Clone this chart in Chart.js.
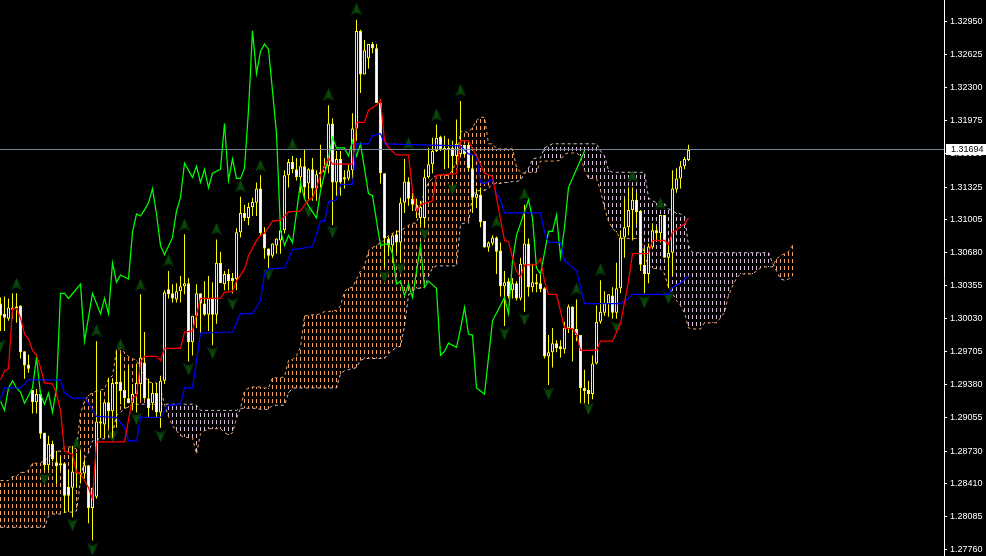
<!DOCTYPE html>
<html lang="en">
  <head>
    <meta charset="UTF-8" />
    <title>Ichimoku chart</title>
    <style>
      body {
        margin: 0;
        background-color: #000;
      }
      canvas {
        display: block;
      }
    </style>
  </head>
  <body>
    <canvas id="myChart" width="986" height="556"></canvas>
    <script src="https://cdn.jsdelivr.net/npm/chart.js"></script>
    <script>
      const lastPrice = 1.31694;
      const priceTicks = [
        1.3295, 1.32625, 1.323, 1.31975, 1.3165, 1.31325, 1.31005, 1.3068, 1.30355,
        1.3003, 1.29705, 1.2938, 1.29055, 1.2873, 1.2841, 1.28085, 1.2776,
      ];

      const candleOpen = [
        1.3018, 1.3008, 1.3003, 1.3014, 1.3015, 1.3016, 1.2971, 1.2958, 1.2933, 1.2921,
        1.2929, 1.2891, 1.2859, 1.288, 1.2862, 1.2861, 1.2861, 1.2838, 1.2837, 1.2852,
        1.2852, 1.2851, 1.2859, 1.2817, 1.2828, 1.2902, 1.2899, 1.2921, 1.2912, 1.2941,
        1.2941, 1.2933, 1.2925, 1.292, 1.2929, 1.2939, 1.296, 1.2925, 1.292, 1.293,
        1.2911, 1.2942, 1.3032, 1.3028, 1.3022, 1.303, 1.3035, 1.3038, 1.298, 1.3006,
        1.3028, 1.3018, 1.3007, 1.3023, 1.3007, 1.3058, 1.3037, 1.3047, 1.3043, 1.3042,
        1.3088, 1.3107, 1.3102, 1.3113, 1.3117, 1.3131, 1.3087, 1.3072, 1.3065, 1.3075,
        1.308, 1.309, 1.3144, 1.3157, 1.315, 1.3142, 1.3153, 1.3136, 1.315, 1.3131,
        1.3145, 1.3147, 1.3153, 1.3195, 1.3137, 1.316, 1.3142, 1.3141, 1.3149, 1.319,
        1.3286, 1.3243, 1.3259, 1.3273, 1.3269, 1.3215, 1.3146, 1.3082, 1.3075, 1.3086,
        1.3078, 1.3117, 1.3138, 1.3121, 1.3115, 1.3102, 1.3102, 1.3142, 1.3155, 1.3168,
        1.3182, 1.3171, 1.317, 1.3171, 1.3163, 1.3165, 1.3174, 1.3174, 1.3151, 1.3122,
        1.3125, 1.3099, 1.3073, 1.3077, 1.3083, 1.307, 1.3035, 1.304, 1.3031, 1.3038,
        1.3023, 1.3056, 1.3077, 1.3034, 1.3039, 1.3038, 1.3033, 1.2966, 1.297, 1.2979,
        1.2976, 1.2973, 1.2994, 1.3015, 1.2993, 1.2987, 1.2935, 1.2933, 1.2929, 1.2959,
        1.3, 1.3009, 1.3018, 1.3026, 1.3009, 1.3033, 1.3083, 1.3093, 1.311, 1.312,
        1.3109, 1.3056, 1.3047, 1.3073, 1.309, 1.3087, 1.3105, 1.3063, 1.3068, 1.313,
        1.3141, 1.3153, 1.3159,
      ];
      const candleHigh = [
        1.3024, 1.3025, 1.3023, 1.3028, 1.3028, 1.3016, 1.2971, 1.2968, 1.2933, 1.2934,
        1.2932, 1.2891, 1.2888, 1.2883, 1.2873, 1.2868, 1.2861, 1.2854, 1.2878, 1.2871,
        1.2873, 1.2865, 1.2859, 1.2837, 1.2981, 1.2932, 1.2922, 1.2945, 1.2944, 1.2972,
        1.2969, 1.2952, 1.2957, 1.2939, 1.2959, 1.3027, 1.299, 1.2944, 1.294, 1.294,
        1.2947, 1.3031, 1.305, 1.3037, 1.3038, 1.3045, 1.3086, 1.3043, 1.3006, 1.3037,
        1.3028, 1.304, 1.3045, 1.3039, 1.3081, 1.3069, 1.305, 1.3052, 1.3048, 1.3092,
        1.3123, 1.3115, 1.3117, 1.3122, 1.3137, 1.3144, 1.3093, 1.3072, 1.3077, 1.3082,
        1.3099, 1.3149, 1.316, 1.3163, 1.3161, 1.3161, 1.3169, 1.3151, 1.3161, 1.3149,
        1.3174, 1.3161, 1.3213, 1.32, 1.3168, 1.3168, 1.3149, 1.3155, 1.3205, 1.3297,
        1.3287, 1.3277, 1.3273, 1.3275, 1.3273, 1.3219, 1.3146, 1.3084, 1.3085, 1.309,
        1.3122, 1.316, 1.3142, 1.3127, 1.3121, 1.3119, 1.315, 1.3171, 1.3181, 1.3194,
        1.3183, 1.3183, 1.318, 1.3178, 1.3199, 1.3217, 1.3174, 1.3176, 1.3165, 1.3131,
        1.3132, 1.3099, 1.3079, 1.3085, 1.3084, 1.3078, 1.305, 1.3043, 1.3043, 1.304,
        1.3063, 1.3115, 1.3082, 1.3057, 1.3047, 1.3047, 1.3034, 1.2987, 1.2994, 1.2982,
        1.2982, 1.3, 1.3017, 1.3015, 1.3022, 1.2987, 1.2953, 1.2942, 1.2967, 1.3016,
        1.3041, 1.303, 1.3027, 1.3034, 1.3058, 1.309, 1.3121, 1.3132, 1.3132, 1.3127,
        1.311, 1.3072, 1.3077, 1.3097, 1.3094, 1.3105, 1.3105, 1.3078, 1.3149, 1.3151,
        1.3158, 1.3162, 1.3174,
      ];
      const candleLow = [
        1.2991, 1.2991, 1.3001, 1.3003, 1.2999, 1.2964, 1.2944, 1.295, 1.291, 1.291,
        1.2885, 1.2854, 1.2854, 1.2863, 1.2841, 1.2854, 1.2812, 1.2814, 1.2808, 1.2837,
        1.2841, 1.2846, 1.2802, 1.2785, 1.2826, 1.2886, 1.2886, 1.2896, 1.2886, 1.2896,
        1.2919, 1.2915, 1.292, 1.2913, 1.2911, 1.2924, 1.2924, 1.2906, 1.2913, 1.2906,
        1.2896, 1.2939, 1.3023, 1.3019, 1.3019, 1.3019, 1.3027, 1.2961, 1.2967, 1.2994,
        1.2989, 1.3006, 1.2991, 1.2977, 1.2998, 1.3038, 1.3031, 1.3031, 1.3028, 1.3031,
        1.3083, 1.3099, 1.3095, 1.3104, 1.3104, 1.3085, 1.3062, 1.3053, 1.3063, 1.3067,
        1.3067, 1.3087, 1.3132, 1.3146, 1.3139, 1.3127, 1.3121, 1.3119, 1.3119, 1.3119,
        1.3132, 1.3144, 1.3146, 1.3095, 1.3124, 1.3124, 1.3131, 1.3139, 1.3141, 1.3178,
        1.3225, 1.3243, 1.3249, 1.3264, 1.3215, 1.3136, 1.3053, 1.3065, 1.3058, 1.3067,
        1.3058, 1.3107, 1.3114, 1.3109, 1.3102, 1.3094, 1.3093, 1.3141, 1.3146, 1.3167,
        1.3168, 1.315, 1.3151, 1.3146, 1.3155, 1.3163, 1.3163, 1.3148, 1.3107, 1.3112,
        1.3093, 1.3073, 1.3069, 1.3075, 1.3047, 1.3025, 1.2996, 1.3023, 1.3023, 1.3021,
        1.3021, 1.301, 1.3025, 1.3029, 1.3029, 1.3029, 1.2964, 1.2938, 1.2955, 1.297,
        1.2965, 1.2969, 1.2989, 1.2961, 1.2981, 1.292, 1.292, 1.2919, 1.2924, 1.2958,
        1.2998, 1.3006, 1.3005, 1.3003, 1.3003, 1.3028, 1.3063, 1.3085, 1.308, 1.3096,
        1.305, 1.3028, 1.3038, 1.3072, 1.308, 1.3078, 1.3063, 1.3033, 1.3045, 1.3127,
        1.3131, 1.315, 1.3158,
      ];
      const candleClose = [
        1.3006, 1.3004, 1.3014, 1.3012, 1.3013, 1.297, 1.2957, 1.2954, 1.2921, 1.2929,
        1.289, 1.2859, 1.288, 1.2865, 1.2858, 1.2859, 1.2829, 1.2829, 1.2853, 1.2851,
        1.285, 1.2859, 1.2817, 1.2837, 1.2902, 1.29, 1.2921, 1.2912, 1.294, 1.2939,
        1.2932, 1.2925, 1.292, 1.2929, 1.294, 1.2965, 1.2925, 1.2915, 1.293, 1.2911,
        1.2942, 1.3029, 1.3027, 1.3023, 1.303, 1.3035, 1.3038, 1.298, 1.3006, 1.3028,
        1.3018, 1.3007, 1.3023, 1.3007, 1.3058, 1.3038, 1.3047, 1.304, 1.304, 1.3088,
        1.3107, 1.3102, 1.3113, 1.3118, 1.3131, 1.3087, 1.3072, 1.3065, 1.3077, 1.3082,
        1.309, 1.3144, 1.3157, 1.315, 1.3142, 1.3153, 1.3132, 1.315, 1.3131, 1.3145,
        1.3147, 1.3153, 1.3195, 1.3137, 1.316, 1.3137, 1.314, 1.3149, 1.319, 1.3286,
        1.3243, 1.3267, 1.3273, 1.3269, 1.3215, 1.3146, 1.3082, 1.3075, 1.3085, 1.3078,
        1.3117, 1.3138, 1.3121, 1.3115, 1.3109, 1.3113, 1.3142, 1.3155, 1.3168, 1.3181,
        1.317, 1.317, 1.3171, 1.3163, 1.3175, 1.3174, 1.3165, 1.3151, 1.3122, 1.3126,
        1.3098, 1.3073, 1.3078, 1.3083, 1.3069, 1.3035, 1.3039, 1.3025, 1.3038, 1.3023,
        1.3057, 1.3077, 1.3034, 1.3039, 1.3037, 1.3032, 1.2966, 1.297, 1.2979, 1.2974,
        1.2973, 1.2994, 1.3015, 1.2993, 1.2987, 1.2935, 1.2932, 1.2929, 1.2959, 1.3,
        1.301, 1.3018, 1.3027, 1.3009, 1.3033, 1.3083, 1.3093, 1.311, 1.312, 1.3108,
        1.3056, 1.3047, 1.3074, 1.309, 1.3087, 1.3105, 1.3063, 1.3068, 1.3131, 1.3141,
        1.3153, 1.316, 1.3169,
      ];

      const tenkanBars = [
        0, 1, 2, 3, 4, 5, 6, 7, 8, 9, 10, 11, 13, 14, 15, 16, 18, 19, 20, 22, 23, 24, 31, 33, 34, 35, 36,
        39, 40, 41, 45, 46, 48, 50, 55, 56, 58, 59, 61, 62, 64, 65, 66, 68, 70, 72, 75, 77, 78, 79, 80,
        82, 83, 88, 89, 91, 92, 94, 95, 96, 97, 99, 102, 103, 104, 105, 108, 109, 114, 115, 117, 118,
        119, 120, 121, 123, 124, 125, 126, 127, 128, 129, 130, 131, 134, 135, 136, 137, 139, 141, 143,
        144, 145, 149, 150, 153, 155, 157, 158, 162, 163, 166, 167, 168, 169, 170, 171, 172,
      ];
      const tenkanPrices = [
        1.2943, 1.2952, 1.2954, 1.3013, 1.3013, 1.3004, 1.2988, 1.2983, 1.2972, 1.2967, 1.2955, 1.294,
        1.2939, 1.2929, 1.2913, 1.2873, 1.287, 1.2852, 1.2851, 1.2837, 1.2826, 1.2882, 1.2882, 1.2925,
        1.2927, 1.296, 1.2966, 1.2966, 1.2962, 1.2974, 1.2974, 1.299, 1.2991, 1.3023, 1.3023, 1.3029,
        1.303, 1.304, 1.3052, 1.3065, 1.308, 1.3085, 1.3087, 1.3099, 1.31, 1.3108, 1.3109, 1.312, 1.3122,
        1.3132, 1.3144, 1.3161, 1.3155, 1.3155, 1.3196, 1.3196, 1.3208, 1.3213, 1.3218, 1.3178, 1.3171,
        1.3164, 1.3164, 1.3129, 1.3109, 1.3115, 1.3119, 1.3144, 1.3146, 1.3178, 1.3178, 1.317, 1.3163,
        1.3155, 1.3146, 1.3143, 1.3122, 1.3101, 1.308, 1.3079, 1.3063, 1.305, 1.3044, 1.3056, 1.3056,
        1.3062, 1.304, 1.3027, 1.3027, 1.2994, 1.2993, 1.2988, 1.2972, 1.2972, 1.2981, 1.2981, 1.2998,
        1.304, 1.3067, 1.3067, 1.308, 1.308, 1.3076, 1.3088, 1.309, 1.3094, 1.3096, 1.3102,
      ];

      const kijunBars = [
        0, 1, 5, 7, 15, 16, 18, 21, 22, 24, 29, 31, 32, 34, 35, 40, 42, 45, 46, 48, 50, 58, 60, 63, 65,
        66, 67, 71, 73, 75, 78, 80, 81, 82, 84, 85, 88, 89, 92, 93, 95, 96, 115, 117, 119, 120, 121, 123,
        124, 125, 126, 135, 136, 137, 140, 141, 142, 144, 146, 155, 157, 158, 167, 168, 170, 172,
      ];
      const kijunPrices = [
        1.2924, 1.2935, 1.2935, 1.2943, 1.2943, 1.293, 1.2925, 1.2925, 1.292, 1.2907, 1.2906, 1.2896,
        1.2883, 1.2883, 1.2906, 1.2906, 1.2918, 1.2919, 1.2935, 1.2935, 1.2989, 1.299, 1.3008, 1.3008,
        1.3021, 1.3047, 1.3052, 1.3053, 1.3071, 1.3072, 1.3074, 1.3099, 1.3099, 1.3118, 1.312, 1.3135,
        1.3135, 1.3175, 1.3175, 1.3183, 1.3185, 1.3175, 1.3173, 1.3165, 1.3163, 1.3137, 1.3136, 1.314,
        1.3126, 1.312, 1.3107, 1.3107, 1.3088, 1.3078, 1.3078, 1.306, 1.3057, 1.305, 1.3018, 1.3018,
        1.3023, 1.3027, 1.3027, 1.3034, 1.3038, 1.3045,
      ];

      const chikouBars = [
        0, 1, 2, 3, 4, 5, 6, 8, 9, 10, 11, 12, 13, 14, 15, 16, 17, 20, 21, 23, 25, 26, 27, 28, 29, 30,
        32, 33, 34, 35, 36, 37, 38, 39, 40, 41, 43, 44, 45, 46, 48, 49, 50, 51, 52, 53, 55, 56, 57, 58,
        59, 60, 61, 62, 63, 64, 65, 66, 67, 68, 69, 70, 71, 72, 73, 75, 76, 77, 79, 80, 82, 83, 84, 86,
        87, 88, 89, 90, 92, 93, 95, 97, 98, 99, 100, 101, 102, 103, 105, 106, 107, 109, 110, 111, 112,
        114, 115, 116, 117, 118, 119, 121, 122, 123, 126, 127, 128, 129, 132, 133, 134, 135, 137, 138,
        139, 140, 141, 142, 146,
      ];
      const chikouPrices = [
        1.2922, 1.2913, 1.2935, 1.2942, 1.2935, 1.2931, 1.292, 1.2935, 1.2965, 1.2929, 1.2919, 1.293,
        1.2911, 1.2935, 1.3028, 1.3028, 1.3023, 1.3037, 1.2981, 1.3028, 1.3008, 1.3023, 1.3008, 1.3058,
        1.3039, 1.3046, 1.3042, 1.3088, 1.3106, 1.3104, 1.311, 1.3117, 1.3131, 1.3106, 1.3075, 1.3066,
        1.3083, 1.3109, 1.3122, 1.3156, 1.3142, 1.3153, 1.3137, 1.315, 1.3132, 1.3146, 1.315, 1.3195,
        1.3139, 1.316, 1.3141, 1.3141, 1.3151, 1.3208, 1.3286, 1.3244, 1.3266, 1.3273, 1.3268, 1.3227,
        1.3185, 1.309, 1.3075, 1.3085, 1.3078, 1.3137, 1.3121, 1.3114, 1.3102, 1.3129, 1.3161, 1.3181,
        1.3171, 1.3171, 1.3163, 1.3178, 1.3163, 1.3175, 1.3126, 1.3124, 1.3075, 1.3077, 1.3067, 1.3037,
        1.304, 1.3026, 1.3037, 1.3024, 1.3075, 1.3034, 1.304, 1.3033, 1.2967, 1.2971, 1.2979, 1.2975,
        1.2993, 1.3014, 1.2988, 1.2987, 1.2935, 1.2929, 1.2965, 1.3001, 1.3024, 1.3008, 1.306, 1.3085,
        1.312, 1.3102, 1.3053, 1.3047, 1.3089, 1.3089, 1.3105, 1.3064, 1.3093, 1.3132, 1.3168,
      ];

      const spanA = [
        1.2844, 1.2844, 1.2844, 1.2848, 1.2848, 1.2852, 1.2852, 1.2854, 1.2861, 1.2861,
        1.2861, 1.2865, 1.2865, 1.2873, 1.2873, 1.2873, 1.2877, 1.2877, 1.2877, 1.2875,
        1.291, 1.2922, 1.2928, 1.293, 1.2932, 1.2933, 1.2934, 1.2944, 1.2947, 1.2972,
        1.2974, 1.297, 1.2966, 1.2964, 1.2962, 1.2955, 1.2947, 1.2941, 1.294, 1.294,
        1.2934, 1.2919, 1.2907, 1.2898, 1.2893, 1.2888, 1.2887, 1.2886, 1.2886, 1.287,
        1.289, 1.2893, 1.2895, 1.2895, 1.2895, 1.2895, 1.2891, 1.2889, 1.2891, 1.2905,
        1.2915, 1.2932, 1.2935, 1.2936, 1.2936, 1.2936, 1.2935, 1.2935, 1.2945, 1.2945,
        1.2945, 1.2946, 1.2962, 1.2963, 1.2967, 1.2975, 1.3006, 1.3006, 1.3007, 1.3007,
        1.3008, 1.301, 1.301, 1.3011, 1.3011, 1.3016, 1.303, 1.3033, 1.3034, 1.3042,
        1.305, 1.3055, 1.307, 1.3073, 1.3075, 1.3078, 1.308, 1.3085, 1.3087, 1.3088,
        1.309, 1.3092, 1.3095, 1.3097, 1.3097, 1.3112, 1.3129, 1.3137, 1.3141, 1.3144,
        1.3144, 1.3144, 1.3144, 1.3149, 1.3158, 1.3187, 1.3187, 1.3186, 1.3191, 1.3198,
        1.3201, 1.3201, 1.3175, 1.3175, 1.317, 1.317, 1.317, 1.317, 1.317, 1.3152,
        1.3147, 1.3146, 1.3147, 1.3147, 1.3147, 1.3158, 1.3158, 1.3158, 1.3158, 1.3158,
        1.3159, 1.3165, 1.3166, 1.3166, 1.3166, 1.3163, 1.3149, 1.3141, 1.3141, 1.3141,
        1.3129, 1.3112, 1.3099, 1.3092, 1.3088, 1.3082, 1.3082, 1.3082, 1.3082, 1.3082,
        1.3082, 1.3065, 1.3055, 1.3053, 1.3052, 1.3052, 1.3047, 1.3034, 1.3028, 1.3021,
        1.3016, 1.3009, 1.2994, 1.2993, 1.2993, 1.2993, 1.2999, 1.2999, 1.2999, 1.2999,
        1.3004, 1.3009, 1.3026, 1.3035, 1.3043, 1.3047, 1.3047, 1.3047, 1.3047, 1.305,
        1.3053, 1.3054, 1.3054, 1.3054, 1.3062, 1.3065, 1.3067, 1.3069, 1.3075,
      ];
      const spanB = [
        1.2798, 1.2798, 1.2798, 1.2798, 1.2798, 1.2798, 1.2798, 1.2798, 1.2798, 1.2798,
        1.2798, 1.2798, 1.2809, 1.2811, 1.2811, 1.2811, 1.2813, 1.2813, 1.2813, 1.2814,
        1.2844, 1.2866, 1.2871, 1.2883, 1.2885, 1.2885, 1.2885, 1.2886, 1.289, 1.2908,
        1.2911, 1.2915, 1.2916, 1.2919, 1.2919, 1.2919, 1.2919, 1.2919, 1.2919, 1.2919,
        1.2919, 1.2919, 1.2919, 1.2919, 1.2919, 1.2919, 1.2919, 1.2919, 1.2919, 1.2918,
        1.2913, 1.2913, 1.2913, 1.2913, 1.2913, 1.2913, 1.2913, 1.2913, 1.2913, 1.2913,
        1.2915, 1.2915, 1.2915, 1.2915, 1.2915, 1.2914, 1.2914, 1.2914, 1.2918, 1.2918,
        1.2918, 1.2918, 1.293, 1.2935, 1.2935, 1.2935, 1.2935, 1.2935, 1.2935, 1.2935,
        1.2935, 1.2935, 1.2935, 1.2935, 1.2935, 1.2949, 1.2952, 1.2953, 1.2954, 1.2955,
        1.2962, 1.2964, 1.2964, 1.2964, 1.2964, 1.2964, 1.2964, 1.2969, 1.2972, 1.2975,
        1.2976, 1.2996, 1.3026, 1.3031, 1.3033, 1.3033, 1.3034, 1.3045, 1.3053, 1.3055,
        1.3055, 1.3055, 1.3055, 1.3055, 1.3055, 1.3096, 1.3097, 1.3097, 1.3124, 1.3129,
        1.3129, 1.3129, 1.3131, 1.3136, 1.3136, 1.3136, 1.3137, 1.3137, 1.3138, 1.3138,
        1.3139, 1.3146, 1.3151, 1.316, 1.3161, 1.3161, 1.3171, 1.3173, 1.3175, 1.3175,
        1.3175, 1.3175, 1.3175, 1.3175, 1.3175, 1.3175, 1.3175, 1.3175, 1.3175, 1.3175,
        1.3168, 1.3163, 1.3149, 1.3147, 1.3147, 1.3147, 1.3147, 1.3147, 1.3147, 1.3147,
        1.3147, 1.3147, 1.3122, 1.3119, 1.3117, 1.3117, 1.3116, 1.3111, 1.3109, 1.3107,
        1.3106, 1.3104, 1.3075, 1.3068, 1.3068, 1.3068, 1.3068, 1.3068, 1.3068, 1.3068,
        1.3068, 1.3068, 1.3068, 1.3068, 1.3068, 1.3068, 1.3068, 1.3068, 1.3068, 1.3068,
        1.3068, 1.3068, 1.3068, 1.3058, 1.305, 1.3042, 1.3041, 1.3042, 1.3045,
      ];

      const upFractalBars = [4, 19, 24, 30, 35, 42, 46, 54, 60, 65, 73, 82, 89, 102, 109, 115, 124, 131, 144, 150, 158, 165];
      const upFractalPrices = [
        1.3037, 1.288, 1.2991, 1.2977, 1.3036, 1.306, 1.3095, 1.3091, 1.3133, 1.3153, 1.3174, 1.3223,
        1.3307, 1.3175, 1.3203, 1.3227, 1.3098, 1.3125, 1.3032, 1.3051, 1.3143, 1.3116,
      ];
      const downFractalBars = [0, 11, 18, 23, 28, 34, 40, 47, 53, 58, 67, 77, 83, 96, 100, 106, 113, 126, 131, 137, 147, 154, 161, 167];
      const downFractalPrices = [
        1.2977, 1.2846, 1.2801, 1.2777, 1.2888, 1.2905, 1.2888, 1.2954, 1.297, 1.3018, 1.3047, 1.3109,
        1.3089, 1.3045, 1.3053, 1.3087, 1.3131, 1.2989, 1.3003, 1.293, 1.2915, 1.2995, 1.302, 1.3024,
      ];

      const kumoUp = "#F4A460";
      const kumoDown = "#D8BFD8";
      const candleColor = "#FFFF00";

      // 1x7 tile, 4px on 3px off, for the cloud's hatching
      function makeHatch(color) {
        const tile = document.createElement("canvas");
        tile.width = 1;
        tile.height = 7;
        const c = tile.getContext("2d");
        c.fillStyle = color;
        c.fillRect(0, 0, 1, 4);
        return c.createPattern(tile, "repeat");
      }

      function makeArrow(pointsUp) {
        const img = document.createElement("canvas");
        img.width = 13;
        img.height = 13;
        const c = img.getContext("2d");
        if (!pointsUp) {
          c.translate(0, 13);
          c.scale(1, -1);
        }
        const grad = c.createLinearGradient(0, 0, 13, 0);
        grad.addColorStop(0, "#021602");
        grad.addColorStop(0.5, "#0a4a0a");
        grad.addColorStop(1, "#021602");
        c.fillStyle = grad;
        c.beginPath();
        c.moveTo(6.5, 0);
        c.lineTo(13, 13);
        c.lineTo(6.5, 9.5);
        c.lineTo(0, 13);
        c.closePath();
        c.fill();
        return img;
      }

      function toPoints(bars, prices) {
        return bars.map((x, k) => ({ x: x, y: prices[k] }));
      }

      function lineSet(data, color, order, dash, width) {
        return {
          type: "line",
          data: data,
          borderColor: color,
          borderWidth: width || 1.25,
          borderDash: dash || [],
          pointRadius: 0,
          tension: 0,
          order: order,
        };
      }

      function arrowSet(data, img) {
        return {
          type: "line",
          data: data,
          showLine: false,
          pointStyle: img,
          pointRadius: 6,
          order: 40,
        };
      }

      const hatchUp = makeHatch(kumoUp);
      const hatchDown = makeHatch(kumoDown);

      const barCommon = {
        type: "bar",
        grouped: false,
        borderSkipped: false,
        inflateAmount: 0,
      };

      const lastPricePlugin = {
        id: "lastPriceLabel",
        afterDraw(chart) {
          const y = chart.scales.y.getPixelForValue(lastPrice);
          const ctx = chart.ctx;
          ctx.save();
          ctx.fillStyle = "#fff";
          ctx.fillRect(946, Math.floor(y) - 5, 40, 11);
          ctx.fillStyle = "#000";
          ctx.font = "9px 'Liberation Sans'";
          ctx.textBaseline = "middle";
          ctx.fillText(lastPrice.toFixed(5), 951, Math.floor(y) + 1);
          ctx.restore();
        },
      };

      new Chart(document.getElementById("myChart"), {
        type: "bar",
        data: {
          datasets: [
            Object.assign({}, barCommon, {
              data: spanA.map((a, i) => ({ x: i, y: [spanB[i], a] })),
              backgroundColor: spanA.map((a, i) => (a >= spanB[i] ? hatchUp : hatchDown)),
              barThickness: 1,
              order: 60,
            }),
            lineSet(toPoints(spanA.map((_, i) => i), spanA), kumoUp, 50, [3, 3], 1),
            lineSet(toPoints(spanB.map((_, i) => i), spanB), kumoDown, 50, [3, 3], 1),
            arrowSet(toPoints(upFractalBars, upFractalPrices), makeArrow(true)),
            arrowSet(toPoints(downFractalBars, downFractalPrices), makeArrow(false)),
            Object.assign({}, barCommon, {
              data: candleHigh.map((h, i) => ({ x: i, y: [candleLow[i], h] })),
              backgroundColor: candleColor,
              barThickness: 1,
              order: 31,
            }),
            Object.assign({}, barCommon, {
              data: candleOpen.map((o, i) => ({ x: i, y: [o, candleClose[i]] })),
              backgroundColor: candleOpen.map((o, i) => (candleClose[i] < o ? "#FFFFFF" : "#000000")),
              borderColor: candleColor,
              borderWidth: 1,
              barThickness: 3,
              order: 30,
            }),
            lineSet(toPoints(chikouBars, chikouPrices), "#00FF00", 20),
            lineSet(toPoints(kijunBars, kijunPrices), "#0000FF", 15),
            lineSet(toPoints(tenkanBars, tenkanPrices), "#FF0000", 10),
            lineSet(
              [
                { x: -0.125, y: lastPrice },
                { x: 235.875, y: lastPrice },
              ],
              "#778899",
              5,
              [],
              1
            ),
          ],
        },
        plugins: [lastPricePlugin],
        options: {
          responsive: false,
          animation: false,
          events: [],
          layout: { padding: 0, autoPadding: false },
          plugins: {
            legend: { display: false },
            tooltip: { enabled: false },
          },
          scales: {
            x: {
              type: "linear",
              display: false,
              offset: false,
              min: -0.125,
              max: 235.875,
              grid: { offset: false },
            },
            y: {
              position: "right",
              min: 1.276983,
              max: 1.331635,
              border: { color: "#fff", width: 1 },
              grid: { drawOnChartArea: false, tickLength: 3, tickColor: "#fff", tickWidth: 1 },
              ticks: {
                color: "#fff",
                padding: 3,
                autoSkip: false,
                font: { family: "'Liberation Sans'", size: 9 },
                callback: (value) => value.toFixed(5),
              },
              afterBuildTicks(scale) {
                scale.ticks = priceTicks.map((v) => ({ value: v }));
              },
              afterFit(scale) {
                scale.width = 42;
                scale.paddingTop = 0;
                scale.paddingBottom = 0;
              },
            },
          },
        },
      });
    </script>
  </body>
</html>
